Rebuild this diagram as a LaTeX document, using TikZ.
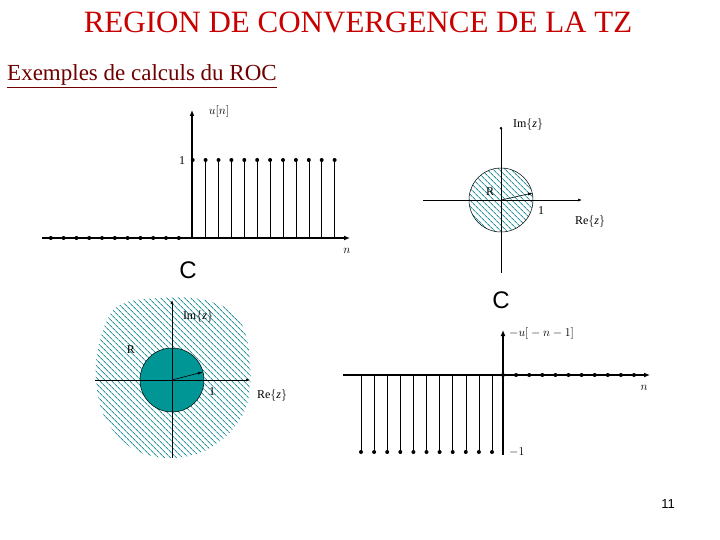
\documentclass[tikz,border=0pt]{standalone}
\usepackage{fontspec}
\setmainfont{Liberation Serif}
\newfontfamily\arialf{Liberation Sans}
\usetikzlibrary{patterns.meta,arrows.meta}
\definecolor{titred}{RGB}{200,0,0}
\definecolor{subred}{RGB}{110,0,0}
\definecolor{teal1}{RGB}{0,150,150}
\definecolor{hatch}{RGB}{40,150,160}
\tikzset{
  axis/.style={line width=1.6pt,-{Latex[length=6pt,width=5pt]}},
  thinaxis/.style={line width=0.6pt},
  stem/.style={line width=0.6pt},
  dot/.style={circle,fill=black,inner sep=0pt,minimum size=4pt},
  lbl/.style={font=\fontsize{12}{12}\selectfont\itshape,inner sep=1pt},
  rlbl/.style={font=\fontsize{12}{12}\selectfont,inner sep=1pt},
  bigc/.style={font=\arialf\fontsize{24}{24}\selectfont,inner sep=0pt},
  hatched/.style={pattern={Lines[angle=135,distance=4pt,line width=0.9pt]},pattern color=hatch},
}
\begin{document}
\begin{tikzpicture}[x=1pt,y=-1pt]
\useasboundingbox (0,0) rectangle (720,540);
\node[text=titred,font=\fontsize{31}{31}\selectfont] (title) at (358,22) {REGION DE CONVERGENCE DE LA TZ};
\node[text=subred,font=\fontsize{23}{23}\selectfont,anchor=west,inner sep=0pt] (sub) at (7,76) {\underline{Exemples de calculs du ROC}};
\node[font=\arialf\fontsize{13}{13}\selectfont] (pg) at (668,504) {11};

% top-left u[n]
\coordinate (o1) at (192,238);
\draw[axis] (42,238) -- (350,238);
\draw[axis] (o1) -- (192,110);
\foreach \i in {0,...,10} \node[dot] (a\i) at ({50.8+12.8*\i},238) {};
\foreach \i in {0,...,11} {\draw[stem] ({192.7+12.9*\i},238) -- ({192.7+12.9*\i},160); \node[dot] (b\i) at ({192.7+12.9*\i},160) {};}
\node[rlbl] (one1) at (182,161) {1};
\node[lbl] (un) at (219,112) {$u\big[n\big]$};
\node[lbl] (n1) at (347,251) {$n$};
\node[bigc] (c1) at (188,270) {C};

% top-right ROC
\fill[white] (501,200) circle (32);
\fill[hatched] (501,200) circle (32);
\draw[line width=0.5pt] (501,200) circle (32);
\draw[thinaxis,-{Latex[length=4pt,width=3pt]}] (423,200) -- (582,200);
\draw[thinaxis,-{Circle[length=2.5pt]}] (501,273) -- (501,127);
\draw[thinaxis,-{Latex[length=5pt,width=3pt]}] (501,200) -- (533,193);
\node[rlbl] (r1) at (490,192) {R};
\node[rlbl] (one2) at (541,211) {1};
\node[rlbl] (im1) at (528,125) {Im$\big\{\mathit{z}\big\}$};
\node[rlbl] (re1) at (590,222) {Re$\big\{\mathit{z}\big\}$};
\node[bigc] (c2) at (501,300) {C};

% bottom-left ROC
\fill[hatched] plot[smooth cycle,tension=0.6] coordinates {(118,306) (160,298) (205,300) (238,318) (250,360) (245,410) (215,445) (175,458) (135,450) (106,420) (96,380) (100,340)};
\fill[teal1] (172,380) circle (32);
\draw[line width=0.5pt] (172,380) circle (32);
\draw[thinaxis,-{Latex[length=4pt,width=3pt]}] (95,380) -- (250,380);
\draw[thinaxis,-{Latex[length=4pt,width=3pt]}] (172,458) -- (172,300);
\draw[thinaxis,-{Latex[length=5pt,width=3pt]}] (172,380) -- (203,372);
\node[rlbl] (r2) at (131,350) {R};
\node[rlbl] (one3) at (212,392) {1};
\node[rlbl] (im2) at (198,316) {Im$\big\{\mathit{z}\big\}$};
\node[rlbl] (re2) at (272,395) {Re$\big\{\mathit{z}\big\}$};

% bottom-right -u[-n-1]
\draw[axis] (343,375) -- (650,375);
\draw[axis] (503,455) -- (503,330);
\foreach \i in {0,...,10} \node[dot] (p\i) at ({503+13.1*\i},375) {};
\foreach \i in {0,...,10} {\draw[stem] ({361+13.1*\i},375) -- ({361+13.1*\i},452); \node[dot] (q\i) at ({361+13.1*\i},452) {};}
\node[lbl,anchor=west] (mu) at (508,333) {$-u\big[-n-1\big]$};
\node[rlbl,anchor=west] (m1) at (508,452) {$-1$};
\node[lbl] (n2) at (644,388) {$n$};
\end{tikzpicture}
\end{document}
